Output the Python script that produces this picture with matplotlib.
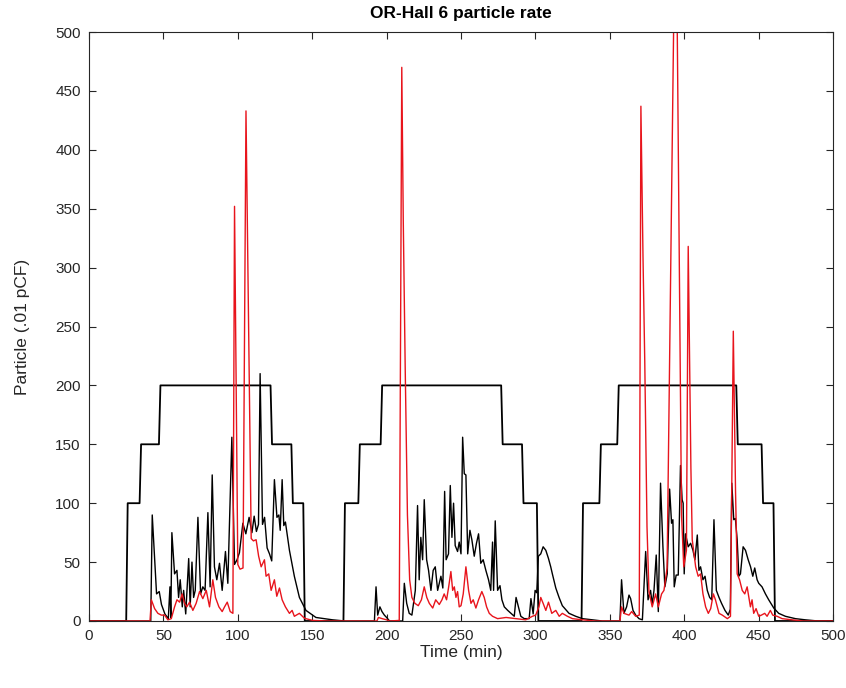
import numpy as np
import matplotlib
matplotlib.use("Agg")
from matplotlib import pyplot as plt

# staircase (black, thick): change times and levels
step_t = [0, 25, 26, 34, 35, 47, 48, 122, 123, 136, 137, 144, 145,
          171, 172, 181, 182, 196, 197, 277, 278, 291, 292, 301, 302,
          331, 332, 343, 344, 355, 356, 435, 436, 452, 453, 460, 461, 500]
step_v = [0, 0, 100, 100, 150, 150, 200, 200, 150, 150, 100, 100, 0,
          0, 100, 100, 150, 150, 200, 200, 150, 150, 100, 100, 0,
          0, 100, 100, 150, 150, 200, 200, 150, 150, 100, 100, 0, 0]

# black particle trace
black_t = [0, 41.5, 42.5, 45.4, 47.2, 48.7, 51, 53.3, 54.4, 55, 55.7, 57.5, 59.1,
           60.2, 61.3, 62.7, 63.6, 65, 67, 68, 69.2, 70.3, 71.4, 73.2, 75, 76.5,
           78, 79.9, 81.4, 82.8, 84.3, 85.9, 87.7, 89.5, 91.7, 93.3, 96, 97.8,
           99.5, 101.1, 103.4, 105.4, 107.6, 109.5, 111, 112.5, 113.9, 115, 116.6,
           118, 119.7, 121.3, 122.8, 124.6, 126.3, 127.6, 128.5, 129.8, 130.9, 132,
           134.7, 138, 141.4, 145.8, 152.5, 163.7, 172,
           191.8, 192.9, 194, 195.5, 196.9, 198.5, 200, 202, 210.8, 211.9, 213.5,
           215.2, 217, 219.3, 220.8, 221.9, 223, 224.2, 225.3, 226.9, 228.2, 229.8,
           231.3, 232.7, 234.3, 236.5, 237.8, 239, 240, 241.6, 242.8, 243.9, 245,
           246.1, 247.7, 248.8, 250, 251.1, 252.2, 253.3, 254.5, 256, 257.3, 258.9,
           260.4, 261.8, 263.3, 264.9, 266.7, 268.5, 270, 271.2, 271.9, 273, 274.6,
           276.2, 277.5, 279.1, 281.4, 283.6, 285.8, 287, 288.6, 290.2, 292.5, 295.8,
           297, 298.5, 299.8, 300.9, 302, 303.6, 305.2, 307, 308.8, 310.3, 311.4,
           313.7, 315.9, 318.1, 322.6, 327.1, 331.6, 338.3, 345,
           356.8, 357.9, 359.5, 361.3, 362.9, 364, 365.6, 367.4, 369.6, 371.9, 374.1,
           375.7, 377.4, 378.5, 379.7, 381.2, 382.6, 384.1, 385.7, 387, 388.6, 390.2,
           391.5, 392.4, 393.3, 394.6, 396, 397.5, 398.6, 399.3, 400, 400.9, 402.7,
           404.3, 405.9, 407.2, 408.8, 409.9, 411, 412.6, 414, 415.5, 417.1, 418.5,
           420, 421.6, 423.4, 425.1, 427.4, 429.6, 431, 432, 433.3, 434.4, 435.6,
           436.7, 437.8, 439.6, 441.2, 443, 444.6, 446.1, 447.4, 449, 450.1, 452.3,
           454.6, 456.8, 460.2, 463.5, 468, 474.7, 481.4, 490, 500]
black_v = [0, 0, 90, 23, 25, 14, 6, 2, 29, 3, 75, 40, 43,
           20, 35, 12, 26, 6, 53, 12, 50, 20, 26, 88, 23, 29,
           26, 92, 29, 124, 46, 35, 49, 26, 59, 32, 156, 48,
           52, 58, 83, 74, 88, 75, 89, 76, 82, 210, 82,
           88, 62, 57, 51, 120, 88, 90, 77, 120, 81, 84,
           60, 38, 20, 9, 3, 1, 0,
           0, 29, 5, 12, 8, 5, 3, 0, 0, 32, 15,
           6.5, 5, 26, 98, 35, 71, 52, 103, 52, 43, 26,
           43, 46, 26, 38, 28, 110, 52, 57, 115, 71, 100,
           64, 59, 67, 57, 156, 125, 124, 57, 77, 69, 55,
           66, 74, 49, 52, 43, 35, 26, 67, 26, 85, 26,
           30, 18, 12, 9, 6.5, 4, 20, 12, 4, 2, 2,
           19, 6, 26, 24, 55, 57, 63, 60, 53, 46, 40,
           28, 20, 13, 6.5, 4, 2, 1, 0,
           0, 35, 6.5, 12, 22, 19, 9, 5, 2, 1, 59,
           18, 26, 14, 26, 56, 8, 117, 63, 29, 40, 112,
           83, 86, 29, 39, 39, 132, 103, 100, 40, 74, 63,
           66, 60, 52, 73, 43, 46, 35, 38, 26, 20, 18,
           86, 26, 20, 15, 9, 5, 10, 117, 86, 87, 69,
           38, 40, 63, 60, 52, 46, 38, 45, 35, 32, 29,
           23, 18, 11, 6.5, 4, 2, 1, 0, 0]

# red particle trace
red_t = [0, 41, 41.9, 44.1, 46.3, 48.6, 50.8, 53, 55.3, 57.5, 59.1, 60.9, 62.6,
         64.2, 65.7, 67.6, 69.8, 72, 74.3, 76.5, 78.8, 81, 83.2, 85, 87.3, 89.5,
         91.1, 92.9, 94.9, 96.7, 97.8, 100, 101.5, 103.5, 105.5, 109, 110.5, 112.3,
         114, 115.7, 117.9, 119, 120.8, 122.4, 124.6, 126.2, 128, 129.8, 132,
         134.7, 136.5, 138, 141.4, 144.8, 150.3, 160,
         193.5, 194.5, 197, 200, 202, 208.5, 210.2, 211.2, 212.5, 214, 215.5, 217,
         219, 221.3, 223.4, 225.3, 227, 228.7, 231, 233, 235.4, 237.2, 238.7,
         240.3, 241.6, 243.2, 244.4, 245.5, 246.6, 247.7, 248.8, 250, 251.5,
         253.3, 255.1, 256.7, 258.2, 260, 261.8, 264, 265.6, 267.2, 269, 271.2,
         274.6, 280.3, 287, 293.5, 298, 300.2, 302.4, 303.6, 305.2, 307, 308.8,
         311, 313.7, 316, 318.1, 321.5, 324.9, 331.6, 340,
         356.8, 357.9, 359.5, 362.9, 364.7, 367.4, 369.8, 370.9, 372.3, 373.5,
         375, 376.3, 378.5, 380.8, 382.6, 384.8, 386.4, 388.5, 394.3, 398.2,
         399.7, 401.5, 402.7, 404.5, 405.4, 407.7, 409.4, 411, 412.6, 414.4,
         416.2, 417.8, 419.6, 421, 423.4, 425.6, 429, 431.1, 433, 434.5, 435.6,
         437.2, 439, 440.7, 442.3, 444.5, 445.6, 446.7, 448.3, 450.1, 451.9,
         454.1, 455.7, 457.9, 459.5, 462.4, 465.8, 472.5, 480, 500]
red_v = [0, 0, 18, 10.5, 6.5, 5, 5, 1, 2, 12, 18, 16, 23,
         15, 12, 16, 9, 15, 25, 19, 26, 12, 35, 20, 12, 8,
         12, 16, 8, 6.5, 352, 48, 44, 45, 433, 70, 68, 69,
         55, 46, 52, 38, 40, 26, 35, 21, 28, 18, 12,
         6.5, 9, 4, 6.5, 2.3, 0.5, 0,
         0, 3, 2, 1, 0, 0.5, 470, 340, 215, 90, 35, 20,
         15, 13, 18, 29, 20, 15, 11, 18, 14, 18, 23,
         18, 28, 42, 26, 29, 20, 25, 12, 13, 23,
         46, 26, 15, 18, 11, 18, 25, 20, 12, 6.5, 4,
         2, 3, 2, 1, 4, 5, 12, 20, 15, 9, 16,
         6.5, 9, 4, 6.5, 4, 2, 1, 0,
         0, 12, 6.5, 5, 8, 4, 5, 437, 310, 220,
         80, 25, 12, 23, 12, 23, 26, 45, 650, 90,
         46, 60, 318, 130, 69, 46, 38, 40, 23, 12,
         6.5, 10.5, 23, 18, 6.5, 5, 2, 4, 246, 110, 40,
         35, 26, 23, 29, 12, 18, 6.5, 10.5, 4, 5,
         6.5, 4, 9, 5, 4, 2, 1, 0, 0]

plt.rcParams['font.family'] = ['Liberation Sans', 'DejaVu Sans']

fig = plt.figure(figsize=(8.46, 6.88), dpi=100)
ax = fig.add_axes([89 / 846, 67 / 688, 744 / 846, 589 / 688])

ax.plot(step_t, step_v, color='black', lw=1.3)
ax.plot(black_t, black_v, color='black', lw=1.0)
ax.plot(red_t, red_v, color='#e8141c', lw=1.0)

ax.set_xlim(0, 500)
ax.set_ylim(0, 500)
ax.set_xticks(np.arange(0, 501, 50))
ax.set_yticks(np.arange(0, 501, 50))
ax.tick_params(direction='in', top=True, right=True, length=5, width=0.8,
               labelsize=11, colors='#262626', pad=6)
for s in ax.spines.values():
    s.set_color('#262626')
    s.set_linewidth(0.8)

ax.set_title('OR-Hall 6 particle rate', fontsize=12.5, fontweight='bold', pad=10)
ax.set_xlabel('Time (min)', fontsize=12.5, color='#262626', labelpad=1)
ax.set_ylabel('Particle (.01 pCF)', fontsize=12.5, color='#262626', labelpad=18)

fig.savefig('out.png', dpi=100)
